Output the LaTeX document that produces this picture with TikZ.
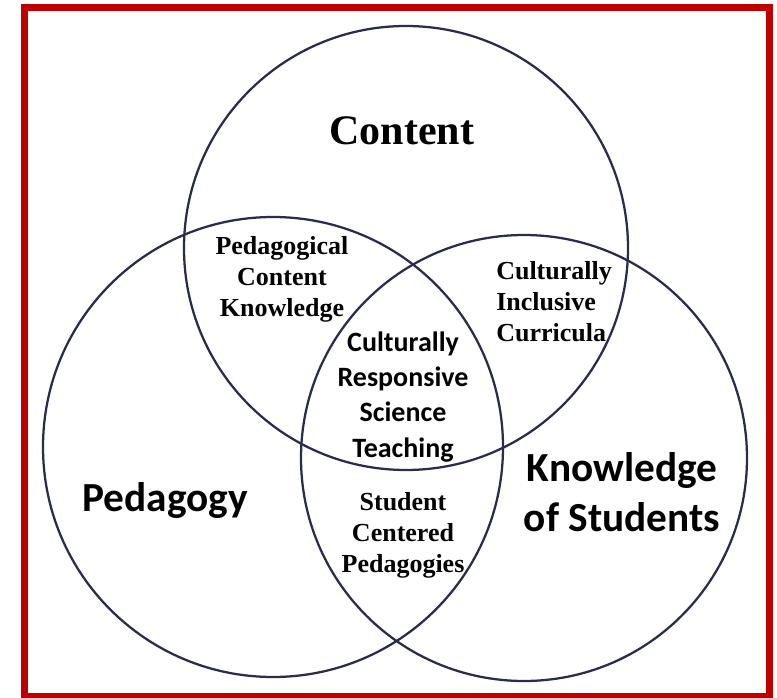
\documentclass[tikz,border=0pt]{standalone}
\usepackage{fontspec}
\usepackage{xcolor}
\setmainfont{Liberation Serif}
\newfontfamily\carlito{Carlito}
\definecolor{framered}{RGB}{192,0,0}
\definecolor{ringblue}{RGB}{42,44,78}

\begin{document}
\begin{tikzpicture}[x=0.75pt,y=0.75pt,yscale=-1,xscale=1,
  ring/.style={draw=ringblue,line width=1.7pt},
  serifbig/.style={inner sep=0.75pt,font=\fontsize{31.5}{36}\selectfont\bfseries},
  seriflbl/.style={inner sep=0.75pt,font=\fontsize{19.5}{23.2}\selectfont\bfseries},
  sansbig/.style={inner sep=0.75pt,font=\carlito\fontsize{31}{37.5}\selectfont\bfseries},
  sanslbl/.style={inner sep=0.75pt,font=\carlito\fontsize{21}{26.3}\selectfont\bfseries}]
\useasboundingbox (0,0) rectangle (777,698);
\draw [framered,line width=5.6pt]  (24.3,7.3) rectangle (769.5,697) ;
\draw [ring]  (406,248) circle (222) ;
\draw [ring]  (273,447) circle (230) ;
\draw [ring]  (524,458) circle (223) ;
\draw (402,131) node (content) [serifbig]   [align=center] {Content};
\draw (282,279) node (pck) [seriflbl]   [align=center] {Pedagogical\\Content\\Knowledge};
\draw (495,302) node (cic) [seriflbl,anchor=west]   [align=left] {Culturally\\Inclusive\\Curricula};
\draw (403,397) node (crst) [sanslbl]   [align=center] {Culturally\\Responsive\\Science\\Teaching};
\draw (165,500) node (pedagogy) [sansbig]   [align=center] {Pedagogy};
\draw (622,492) node (kos) [sansbig]   [align=center] {Knowledge\\of Students};
\draw (403,535) node (scp) [seriflbl]   [align=center] {Student\\Centered\\Pedagogies};
\end{tikzpicture}
\end{document}
